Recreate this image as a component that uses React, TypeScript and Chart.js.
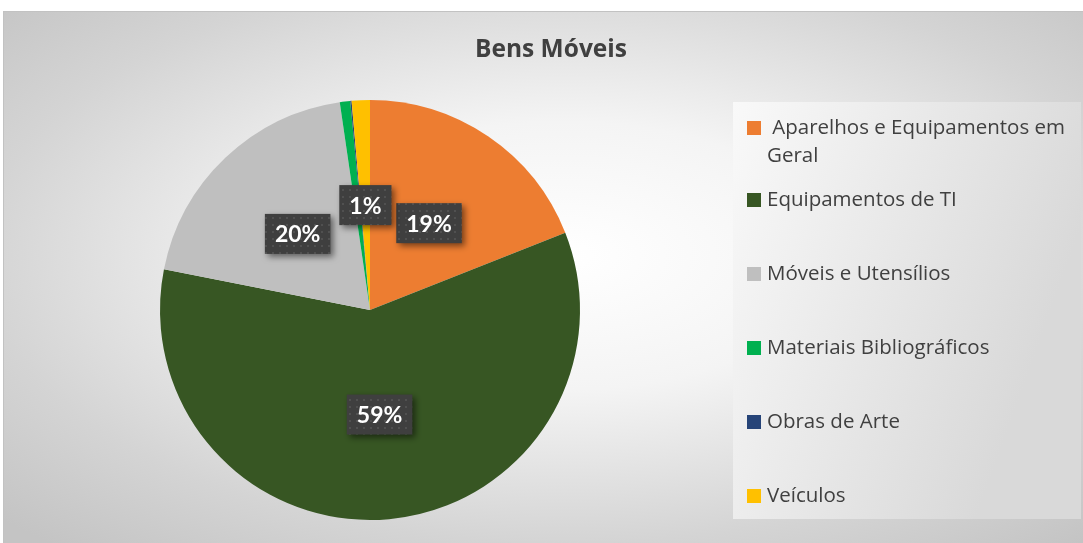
import React, { useEffect, useRef } from "react";
import { Chart, registerables } from "chart.js";

Chart.register(...registerables);

const chartTitle = "Bens Móveis";
const categories = [
  " Aparelhos e Equipamentos em Geral",
  "Equipamentos de TI",
  "Móveis e Utensílios",
  "Materiais Bibliográficos",
  "Obras de Arte",
  "Veículos",
];
const values = [19.0, 59.1, 19.6, 0.8, 0.1, 1.4];
const colors = ["#ED7D31", "#375623", "#BFBFBF", "#00B050", "#264478", "#FFC000"];

const FONT = "'Open Sans', Lato, sans-serif";
const LABEL_FONT = "Lato, 'Open Sans', sans-serif";
const TEXT_COLOR = "#404040";

function wrapText(ctx: CanvasRenderingContext2D, text: string, maxWidth: number): string[] {
  const words = text.split(" ");
  const lines: string[] = [];
  let line = "";
  words.forEach((w, idx) => {
    const candidate = idx === 0 ? w : line + " " + w;
    if (ctx.measureText(candidate).width > maxWidth && line.trim() !== "") {
      lines.push(line);
      line = w;
    } else {
      line = candidate;
    }
  });
  if (line) lines.push(line);
  return lines;
}

const decorPlugin = {
  id: "decor",
  afterDraw(chart: any) {
    const ctx: CanvasRenderingContext2D = chart.ctx;
    ctx.save();
    // Title
    ctx.font = `bold 24.5px ${FONT}`;
    ctx.fillStyle = TEXT_COLOR;
    ctx.textAlign = "center";
    ctx.textBaseline = "middle";
    ctx.fillText(chartTitle, 548, 39);

    // Legend box
    const bx = 730, by = 91, bw = 348, bh = 417;
    const g = ctx.createLinearGradient(bx, by, bx + bw, by + bh * 0.3);
    g.addColorStop(0, "#f9f9f9");
    g.addColorStop(1, "#d9d9d9");
    ctx.fillStyle = g;
    ctx.fillRect(bx, by, bw, bh);

    ctx.font = `20.5px ${FONT}`;
    ctx.textAlign = "left";
    ctx.textBaseline = "middle";
    const lineH = 28;
    const data = chart.data;
    const labels: string[] = data.labels;
    const bg: string[] = data.datasets[0].backgroundColor;
    labels.forEach((lab, i) => {
      const y0 = i === 0 ? 117 : 189 + (i - 1) * 74;
      ctx.fillStyle = bg[i];
      ctx.fillRect(744, y0 - 7, 14, 14);
      const lines = wrapText(ctx, lab, 310);
      ctx.fillStyle = TEXT_COLOR;
      lines.forEach((ln, k) => {
        ctx.fillText(ln, 764, y0 + k * lineH);
      });
    });
    ctx.restore();
  },
  afterDatasetsDraw(chart: any) {
    const ctx: CanvasRenderingContext2D = chart.ctx;
    const meta = chart.getDatasetMeta(0);
    const ds: number[] = chart.data.datasets[0].data;
    const total = ds.reduce((a, b) => a + b, 0);
    const pc = document.createElement("canvas");
    pc.width = 7;
    pc.height = 7;
    const pctx = pc.getContext("2d")!;
    pctx.fillStyle = "#3f3f3f";
    pctx.fillRect(0, 0, 7, 7);
    pctx.fillStyle = "#505050";
    pctx.fillRect(3, 3, 2, 2);
    const pattern = ctx.createPattern(pc, "repeat");

    meta.data.forEach((arc: any, i: number) => {
      const pct = (ds[i] / total) * 100;
      if (pct < 1) return;
      const text = Math.round(pct) + "%";
      const pos = arc.tooltipPosition();
      ctx.save();
      ctx.font = `bold 23px ${LABEL_FONT}`;
      const tw = ctx.measureText(text).width;
      const w = tw + 20;
      const h = 40;
      const x = pos.x - w / 2;
      const y = pos.y - h / 2;
      ctx.shadowColor = "rgba(0,0,0,0.5)";
      ctx.shadowBlur = 6;
      ctx.shadowOffsetX = 3;
      ctx.shadowOffsetY = 3;
      ctx.fillStyle = pattern || "#404040";
      ctx.fillRect(x, y, w, h);
      ctx.shadowColor = "transparent";
      ctx.fillStyle = "#ffffff";
      ctx.textAlign = "center";
      ctx.textBaseline = "middle";
      ctx.fillText(text, pos.x, pos.y + 1);
      ctx.restore();
    });
  },
};

export default function App() {
  const ref = useRef<HTMLCanvasElement | null>(null);

  useEffect(() => {
    document.body.style.margin = "0";
    if (!ref.current) return;
    const chart = new Chart(ref.current, {
      type: "pie",
      data: {
        labels: categories,
        datasets: [
          {
            data: values,
            backgroundColor: colors,
            borderWidth: 0,
          },
        ],
      },
      options: {
        responsive: false,
        animation: false,
        devicePixelRatio: 1,
        layout: { padding: { left: 157, right: 503, top: 89, bottom: 23 } },
        plugins: {
          legend: { display: false },
          title: { display: false },
          tooltip: { enabled: false },
        },
      },
      plugins: [decorPlugin],
    });
    return () => chart.destroy();
  }, []);

  return (
    <div style={{ position: "relative", width: 1083, height: 543, background: "#ffffff", overflow: "hidden" }}>
      <div
        style={{
          position: "absolute",
          left: 3,
          top: 11,
          width: 1080,
          height: 532,
          background: "radial-gradient(ellipse 72% 72% at 52% 46%, #ffffff 0%, #f4f4f4 35%, #d4d4d4 75%, #c4c4c4 100%)",
          boxShadow: "inset 1px 1px 0 #c2c2c2",
        }}
      >
        <canvas ref={ref} width={1080} height={532} style={{ position: "absolute", left: 0, top: 0 }} />
      </div>
    </div>
  );
}
